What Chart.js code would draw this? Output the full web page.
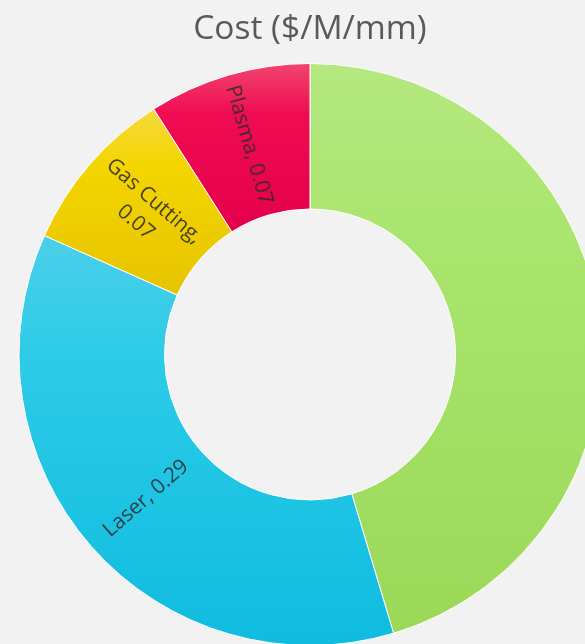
<!DOCTYPE html>
<html>
<head>
<meta charset="utf-8">
<script src="https://cdn.jsdelivr.net/npm/chart.js@4.4.1/dist/chart.umd.min.js"></script>
<style>
  html, body { margin: 0; padding: 0; background: #f2f2f2; overflow: hidden; width: 585px; height: 644px; }
  #wrap { position: absolute; left: 0; top: 0; width: 620px; height: 650px; }
</style>
</head>
<body>
<div id="wrap"><canvas id="c" width="620" height="650"></canvas></div>
<script>
// ---- data ----
const chartTitle = 'Cost ($/M/mm)';
const categories = ['', 'Laser', 'Gas Cutting', 'Plasma'];
const costValues = [0.357, 0.286, 0.073, 0.071];
const topColors = ['#b5e880', '#4ccfe9', '#f5da40', '#f2446f'];
const midColors = ['#aae56f', '#2ccbe8', '#f3d500', '#ef0c52'];
const bottomColors = ['#9bd857', '#0fbcdf', '#e6c400', '#e4004b'];

function sliceGradient(ctx) {
  const chart = ctx.chart;
  const area = chart.chartArea;
  const i = ctx.dataIndex;
  if (!area) return midColors[i];
  const data = ctx.dataset.data;
  const total = data.reduce((a, b) => a + b, 0);
  let start = -Math.PI / 2;
  for (let k = 0; k < i; k++) start += data[k] / total * Math.PI * 2;
  const end = start + data[i] / total * Math.PI * 2;
  const cx = (area.left + area.right) / 2;
  const cy = (area.top + area.bottom) / 2;
  const r = (Math.min(area.width, area.height) - 1) / 2;
  const rin = r * 0.5;
  let minY = Infinity, maxY = -Infinity;
  const steps = 60;
  for (let s = 0; s <= steps; s++) {
    const a = start + (end - start) * s / steps;
    for (const rr of [r, rin]) {
      const y = cy + Math.sin(a) * rr;
      minY = Math.min(minY, y); maxY = Math.max(maxY, y);
    }
  }
  const g = chart.ctx.createLinearGradient(0, minY, 0, maxY);
  g.addColorStop(0, topColors[i]);
  g.addColorStop(0.3, midColors[i]);
  g.addColorStop(1, bottomColors[i]);
  return g;
}

const sliceLabels = {
  id: 'sliceLabels',
  afterDatasetsDraw(chart) {
    const ctx = chart.ctx;
    const meta = chart.getDatasetMeta(0);
    const ds = chart.data.datasets[0];
    ctx.save();
    ctx.font = '21px "Open Sans", sans-serif';
    ctx.fillStyle = 'rgba(45,45,45,0.88)';
    ctx.textAlign = 'center';
    ctx.textBaseline = 'middle';
    meta.data.forEach((arc, i) => {
      const name = chart.data.labels[i];
      if (!name) return;
      const p = arc.getProps(['x', 'y', 'startAngle', 'endAngle', 'innerRadius', 'outerRadius'], true);
      const mid = (p.startAngle + p.endAngle) / 2;
      const rm = (p.innerRadius + p.outerRadius) / 2;
      const x = p.x + Math.cos(mid) * rm;
      const y = p.y + Math.sin(mid) * rm;
      const valText = ds.data[i].toFixed(2);
      let lines = [name + ', ' + valText];
      if (ctx.measureText(lines[0]).width > (p.outerRadius - p.innerRadius)) {
        lines = [name + ',', valText];
      }
      ctx.save();
      ctx.translate(x, y);
      ctx.rotate(mid + Math.PI);
      const lh = 28;
      lines.forEach((t, j) => {
        ctx.fillText(t, 0, (j - (lines.length - 1) / 2) * lh);
      });
      ctx.restore();
    });
    ctx.restore();
  }
};

new Chart(document.getElementById('c'), {
  type: 'doughnut',
  data: {
    labels: categories,
    datasets: [{
      data: costValues,
      backgroundColor: sliceGradient,
      borderColor: '#ffffff',
      borderWidth: 1,
      hoverOffset: 0
    }]
  },
  options: {
    responsive: false,
    animation: false,
    cutout: '50%',
    layout: { padding: { top: 9, bottom: 4, left: 0, right: 0 } },
    plugins: {
      legend: { display: false },
      tooltip: { enabled: false },
      title: {
        display: true,
        text: chartTitle,
        color: '#595959',
        font: { family: '"Open Sans", sans-serif', size: 33.5, weight: 'normal', lineHeight: 1.2 },
        padding: { top: 0, bottom: 13.8 }
      }
    }
  },
  plugins: [sliceLabels]
});
</script>
</body>
</html>
